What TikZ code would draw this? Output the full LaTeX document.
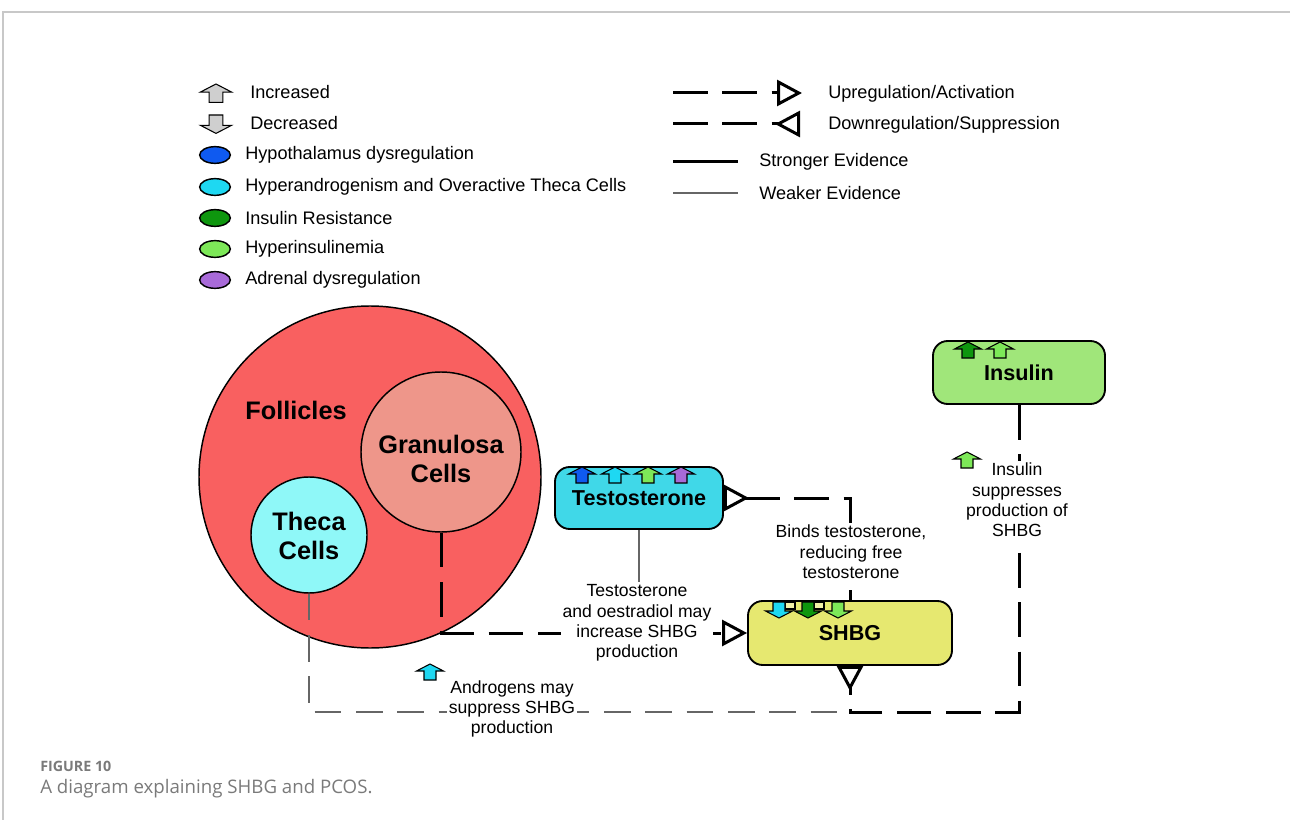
\documentclass[tikz,border=0pt]{standalone}
\usepackage{fontspec}
\setmainfont{Liberation Sans}
\newfontfamily\capfont{Open Sans}
\usetikzlibrary{arrows.meta,shapes.geometric}

\definecolor{follred}{HTML}{F96060}
\definecolor{granpink}{HTML}{EE968A}
\definecolor{thecacyan}{HTML}{8FF8F8}
\definecolor{testocyan}{HTML}{40D8E8}
\definecolor{shbgyel}{HTML}{E6E870}
\definecolor{paleyel}{HTML}{F2F2A8}
\definecolor{insgreen}{HTML}{A0E67A}
\definecolor{hypoblue}{HTML}{0F5AF0}
\definecolor{hyperand}{HTML}{1ED8F2}
\definecolor{irgreen}{HTML}{0E960E}
\definecolor{hyperins}{HTML}{7DE858}
\definecolor{adrpurple}{HTML}{A86AD8}
\definecolor{weakgray}{HTML}{666666}
\definecolor{framegray}{HTML}{C8C8C8}
\definecolor{capgray}{HTML}{7A7A7A}
\definecolor{glyphgray}{HTML}{CFCFCF}

\tikzset{
  pics/uparr/.style={code={
    \draw[line width=0.8pt, line join=miter, fill=#1]
      (-13.5,7) -- (0,0) -- (13.5,7) -- (6,7) -- (6,16) -- (-6,16) -- (-6,7) -- cycle;}},
  pics/downarr/.style={code={
    \draw[line width=0.8pt, line join=miter, fill=#1]
      (-13.5,9) -- (0,16) -- (13.5,9) -- (6,9) -- (6,0) -- (-6,0) -- (-6,9) -- cycle;}},
}

\begin{document}
\begin{tikzpicture}[x=0.75pt,y=-0.75pt,
  txt/.style={font=\fontsize{13.6}{15.3}\selectfont, inner sep=0pt},
  lab/.style={font=\fontsize{13.2}{15.3}\selectfont, align=center, fill=white, inner sep=1.5pt},
  celltext/.style={inner sep=0pt, align=center, font=\bfseries\fontsize{19}{21.75}\selectfont},
  cell/.style={circle, draw, line width=1.1pt, inner sep=0pt, celltext},
  box/.style={draw, line width=1.4pt, rounded corners=11pt, inner sep=0pt,
              font=\bfseries\fontsize{16.2}{19}\selectfont},
  swatch/.style={ellipse, draw, line width=1.1pt, minimum width=23pt,
                 minimum height=12.5pt, inner sep=0pt},
  strong/.style={line width=2.25pt, dash pattern=on 26pt off 11pt},
  strongsolid/.style={line width=2.25pt},
  weak/.style={line width=1.5pt, draw=weakgray},
  weakdash/.style={weak, dash pattern=on 20pt off 11pt},
  act/.style={-{Triangle[open,length=18.75pt,width=19.5pt]}},
  inhib/.style={-{Triangle[open,reversed,length=18.75pt,width=19.5pt]}},
  inhibstart/.style={{Triangle[open,reversed,length=18.75pt,width=19.5pt]}-},
]
\fill[white] (0,0) rectangle (1290,820);
\useasboundingbox (0,0) rectangle (1290,820);

% page frame
\draw[framegray, line width=1.1pt] (3,820) -- (3,12) -- (1290,12);

% ---------- legend: colour key ----------
\pic[scale=1.15] at (216,84) {uparr=glyphgray};
\node[txt, anchor=west] (kinc) at (250,92) {Increased};
\pic[scale=1.15] at (216,115) {downarr=glyphgray};
\node[txt, anchor=west] (kdec) at (250,123) {Decreased};
\node[swatch, fill=hypoblue]  (s1) at (215,155) {};
\node[txt, anchor=west] (k1) at (245,155) {Hypothalamus dysregulation};
\node[swatch, fill=hyperand]  (s2) at (215,187) {};
\node[txt, anchor=west] (k2) at (245,187) {Hyperandrogenism and Overactive Theca Cells};
\node[swatch, fill=irgreen]   (s3) at (215,218) {};
\node[txt, anchor=west] (k3) at (245,218) {Insulin Resistance};
\node[swatch, fill=hyperins]  (s4) at (215,249) {};
\node[txt, anchor=west] (k4) at (245,249) {Hyperinsulinemia};
\node[swatch, fill=adrpurple] (s5) at (215,280) {};
\node[txt, anchor=west] (k5) at (245,280) {Adrenal dysregulation};

% ---------- legend: line key ----------
\coordinate (ua) at (673,93);  \coordinate (ub) at (802,93);
\draw[strong, act] (ua) -- (ub);
\node[txt, anchor=west] (kup) at (828,94) {Upregulation/Activation};
\coordinate (da) at (673,124); \coordinate (db) at (800,124);
\draw[strong, inhib] (da) -- (db);
\node[txt, anchor=west] (kdown) at (828,125) {Downregulation/Suppression};
\coordinate (sa) at (673,162); \coordinate (sb) at (738,162);
\draw[strongsolid] (sa) -- (sb);
\node[txt, anchor=west] (kstrong) at (759,162) {Stronger Evidence};
\coordinate (wa) at (673,193); \coordinate (wb) at (738,193);
\draw[weak] (wa) -- (wb);
\node[txt, anchor=west] (kweak) at (759,193) {Weaker Evidence};

% ---------- follicle ----------
\node[cell, fill=follred, minimum size=256.5pt] (foll) at (370,477) {};
\node[celltext] (folllab) at (296,410) {Follicles};
\node[cell, fill=granpink, minimum size=120pt] (gran) at (441,452) {};
\node[celltext] (granlab) at (441,459) {Granulosa\\Cells};
\node[cell, fill=thecacyan, minimum size=87pt] (theca) at (309,535) {};
\node[celltext] (thecalab) at (309,536) {Theca\\Cells};

% ---------- hormone boxes ----------
\node[box, fill=testocyan, minimum width=126pt, minimum height=46.5pt] (testo) at (639,498) {Testosterone};
\node[box, fill=shbgyel, minimum width=153pt, minimum height=48pt] (shbg) at (850,633) {SHBG};
\node[box, fill=insgreen, minimum width=129pt, minimum height=47.25pt] (ins) at (1019,372.5) {Insulin};

\pic at (582,467) {uparr=hypoblue};
\pic at (615,467) {uparr=hyperand};
\pic at (648,467) {uparr=hyperins};
\pic at (681,467) {uparr=adrpurple};

\pic at (968,342) {uparr=irgreen};
\pic at (1000,342) {uparr=hyperins};

\draw[line width=0.8pt, fill=paleyel] (785,602) rectangle (795,609);
\draw[line width=0.8pt, fill=paleyel] (814,602) rectangle (824,609);
\pic at (779,602) {downarr=hyperand};
\pic at (808,602) {downarr=irgreen};
\pic at (838,602) {downarr=hyperins};

% ---------- connectors ----------
\coordinate (J) at (850,712);
\draw[weakdash] (theca.south) |- (J);
\draw[strong, act] (gran.south) |- (shbg.west);
\draw[strong, inhibstart] (testo.east) -| (shbg.north);
\draw[strong, inhib] (ins.south) |- (J) -- (shbg.south);

% ---------- connector labels ----------
\node[lab] (lgran) at (637,623) {Testosterone\\and oestradiol may\\increase SHBG\\production};
\draw[weak] (testo.south) -- (testo.south |- lgran.north);
\node[lab] (lbind) at (851,552) {Binds testosterone,\\reducing free\\testosterone};
\node[lab] (landr) at (512,709) {Androgens may\\suppress SHBG\\production};
\pic at (430,664) {uparr=hyperand};
\node[lab] (lins) at (1017,500) {Insulin\\suppresses\\production of\\SHBG};
\pic at (967,452) {uparr=hyperins};

% ---------- caption ----------
\node[anchor=west, inner sep=0pt, text=capgray, font=\capfont\bfseries\fontsize{10.7}{12}\selectfont] (fig) at (40,766) {FIGURE 10};
\node[anchor=west, inner sep=0pt, text=capgray, font=\capfont\fontsize{14}{16}\selectfont] (cap) at (40,789) {A diagram explaining SHBG and PCOS.};
\end{tikzpicture}
\end{document}
